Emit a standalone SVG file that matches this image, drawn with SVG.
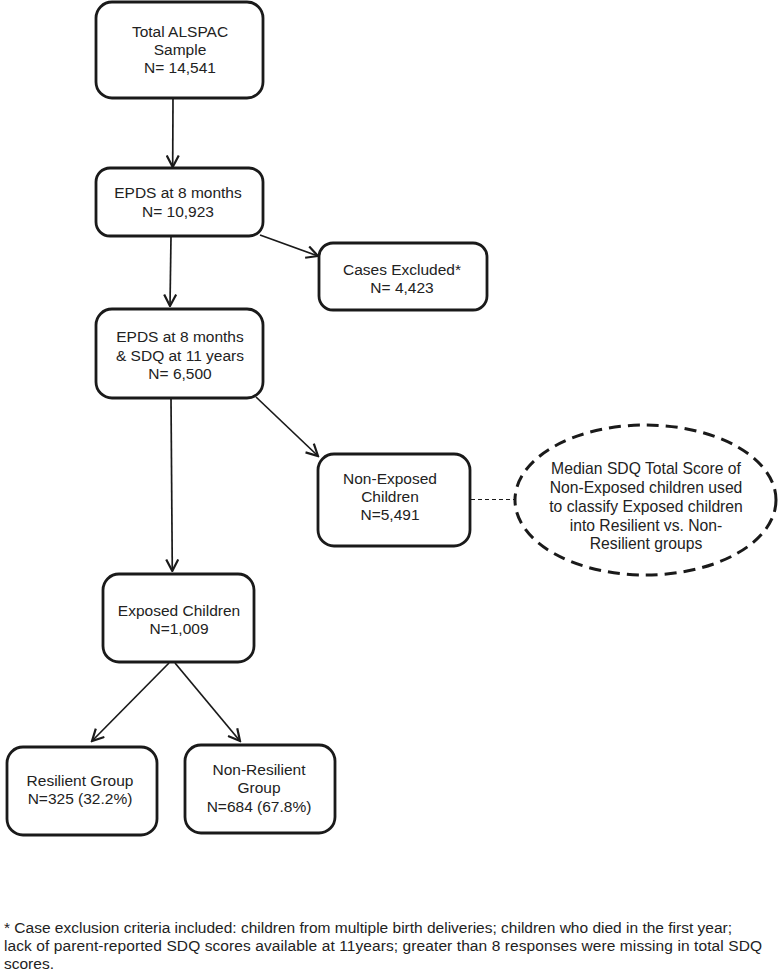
<svg xmlns="http://www.w3.org/2000/svg" width="778" height="973" viewBox="0 0 778 973">
<style>
.box{fill:#fff;stroke:#1a1a1a;stroke-width:2.8}
.t{font-family:"Liberation Sans",Arial,sans-serif;font-size:15.5px;fill:#222;text-anchor:middle}
.te{font-family:"Liberation Sans",Arial,sans-serif;font-size:15.7px;fill:#222;text-anchor:middle}
.fn{font-family:"Liberation Sans",Arial,sans-serif;font-size:15.5px;fill:#222}
.c{fill:none;stroke:#1a1a1a;stroke-width:1.7}
</style>
<defs>
<marker id="ah" viewBox="0 0 14 14" refX="12.5" refY="7" markerWidth="14" markerHeight="14" markerUnits="userSpaceOnUse" orient="auto">
<path d="M1,1 L12.5,7 L1,13" fill="none" stroke="#1a1a1a" stroke-width="2.2"/>
</marker>
</defs>
<rect width="778" height="973" fill="#fff"/>
<g id="connectors">
<line class="c" x1="173" y1="99" x2="172.7" y2="167" marker-end="url(#ah)"/>
<line class="c" x1="171" y1="237" x2="170" y2="306" marker-end="url(#ah)"/>
<line class="c" x1="260" y1="235" x2="318" y2="256" marker-end="url(#ah)"/>
<line class="c" x1="171" y1="399" x2="172.3" y2="571" marker-end="url(#ah)"/>
<line class="c" x1="256" y1="397" x2="318" y2="456" marker-end="url(#ah)"/>
<line class="c" x1="169" y1="663" x2="92" y2="741" marker-end="url(#ah)"/>
<line class="c" x1="175" y1="663" x2="240" y2="741" marker-end="url(#ah)"/>
<line x1="471" y1="499.5" x2="514" y2="499.5" stroke="#1a1a1a" stroke-width="1.1" stroke-dasharray="4,3"/>
</g>
<g id="total">
<rect class="box" x="96" y="2" width="167" height="96" rx="16"/>
<text class="t" x="180" y="37">Total ALSPAC</text>
<text class="t" x="180" y="55">Sample</text>
<text class="t" x="180" y="73">N= 14,541</text>
</g>
<g id="epds8">
<rect class="box" x="96" y="168" width="167" height="68" rx="14"/>
<text class="t" x="178" y="198">EPDS at 8 months</text>
<text class="t" x="178" y="217">N= 10,923</text>
</g>
<g id="excluded">
<rect class="box" x="319" y="243" width="168" height="67" rx="14"/>
<text class="t" x="402" y="275">Cases Excluded*</text>
<text class="t" x="402" y="293">N= 4,423</text>
</g>
<g id="epds-sdq">
<rect class="box" x="96" y="309" width="167" height="89" rx="16"/>
<text class="t" x="180" y="342">EPDS at 8 months</text>
<text class="t" x="180" y="361">&amp; SDQ at 11 years</text>
<text class="t" x="180" y="379">N= 6,500</text>
</g>
<g id="nonexposed">
<rect class="box" x="318" y="454" width="152" height="92" rx="16"/>
<text class="t" x="390" y="484">Non-Exposed</text>
<text class="t" x="390" y="502">Children</text>
<text class="t" x="390" y="520">N=5,491</text>
</g>
<g id="median">
<ellipse cx="645.5" cy="500" rx="130.5" ry="75" fill="#fff" stroke="#1a1a1a" stroke-width="3" stroke-dasharray="12,7"/>
<text class="te" x="646" y="474">Median SDQ Total Score of</text>
<text class="te" x="646" y="493">Non-Exposed children used</text>
<text class="te" x="646" y="512">to classify Exposed children</text>
<text class="te" x="646" y="531">into Resilient vs. Non-</text>
<text class="te" x="646" y="549">Resilient groups</text>
</g>
<g id="exposed">
<rect class="box" x="103" y="574" width="151" height="88" rx="16"/>
<text class="t" x="179" y="616">Exposed Children</text>
<text class="t" x="179" y="634">N=1,009</text>
</g>
<g id="resilient">
<rect class="box" x="7" y="747" width="150" height="88" rx="16"/>
<text class="t" x="80" y="786">Resilient Group</text>
<text class="t" x="80" y="804">N=325 (32.2%)</text>
</g>
<g id="nonresilient">
<rect class="box" x="185" y="745" width="150" height="88" rx="16"/>
<text class="t" x="259" y="775">Non-Resilient</text>
<text class="t" x="259" y="793">Group</text>
<text class="t" x="259" y="812">N=684 (67.8%)</text>
</g>
<g id="footnote">
<text class="fn" x="4" y="933">* Case exclusion criteria included: children from multiple birth deliveries; children who died in the first year;</text>
<text class="fn" x="4" y="951" textLength="758" lengthAdjust="spacing">lack of parent-reported SDQ scores available at 11years; greater than 8 responses were missing in total SDQ</text>
<text class="fn" x="4" y="969">scores.</text>
</g>
</svg>
